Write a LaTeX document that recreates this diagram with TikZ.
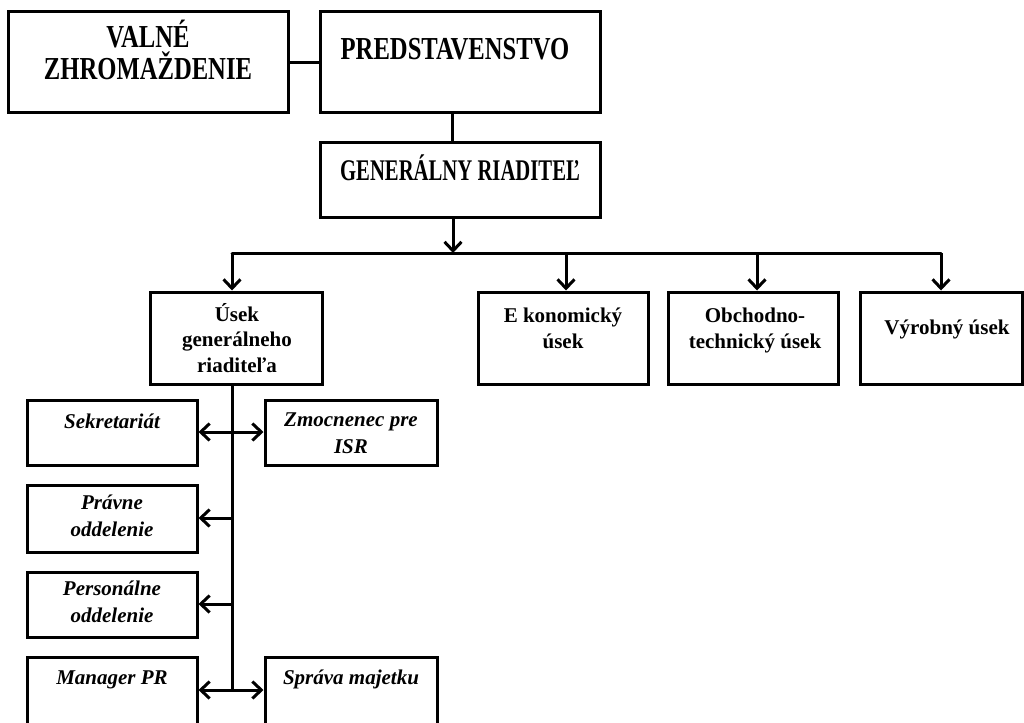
\documentclass[tikz,border=0pt]{standalone}
\usepackage{fontspec}
\setmainfont{Liberation Serif}
\newfontfamily\condfont{Liberation Serif}[FakeStretch=0.77]
\newfontfamily\condfontb{Liberation Serif}[FakeStretch=0.69]
\usetikzlibrary{arrows.meta}
\begin{document}
\begin{tikzpicture}[x=1pt,y={(0pt,-1pt)},
  box/.style={draw=black,line width=3pt,inner sep=0pt,rectangle,fill=white},
  topfont/.style={font=\condfont\bfseries\fontsize{32}{32}\selectfont,align=center,inner sep=0pt},
  gfont/.style={font=\condfontb\bfseries\fontsize{30}{33}\selectfont,align=center,inner sep=0pt},
  midfont/.style={font=\bfseries\fontsize{21}{25.5}\selectfont,align=center,inner sep=0pt},
  lowfont/.style={font=\bfseries\itshape\fontsize{21}{26.5}\selectfont,align=center,inner sep=0pt},
  conn/.style={line width=3pt,draw=black},
  arr/.style={conn,-{Straight Barb[length=9pt,width=17pt,line width=3pt]}}
]
\useasboundingbox (0,0) rectangle (1024,722);
\clip (0,0) rectangle (1024,722);
% top level
\node[box,minimum width=280pt,minimum height=101pt] (vz) at (148,62.5) {};
\node[topfont,anchor=base] (vzt) at (148,80) {VALNÉ\\ZHROMAŽDENIE};
\node[box,minimum width=280pt,minimum height=101pt] (pr) at (460,62.5) {};
\node[topfont,anchor=base] (prt) at (455,60) {PREDSTAVENSTVO};
\node[box,minimum width=280pt,minimum height=74pt] (gr) at (460,180) {};
\node[gfont,anchor=base] (grt) at (460,180) {GENERÁLNY RIADITEĽ};
% second level
\node[box,minimum width=172pt,minimum height=92pt] (us) at (236,338) {};
\node[midfont,anchor=base] (ust) at (237,372) {Úsek\\generálneho\\riaditeľa};
\node[box,minimum width=170pt,minimum height=92pt] (ek) at (563,338) {};
\node[midfont,anchor=base] (ekt) at (563,348) {E konomický\\úsek};
\node[box,minimum width=170pt,minimum height=92pt] (ob) at (753,338) {};
\node[midfont,anchor=base] (obt) at (755,348) {Obchodno-\\technický úsek};
\node[box,minimum width=162pt,minimum height=92pt] (vy) at (941,338) {};
\node[midfont,anchor=base] (vyt) at (947,334) {Výrobný úsek};
% third level
\node[box,minimum width=170pt,minimum height=65pt] (se) at (112,432.5) {};
\node[lowfont,anchor=base] (set) at (112,428) {Sekretariát};
\node[box,minimum width=172pt,minimum height=65pt] (zm) at (351,432.5) {};
\node[lowfont,anchor=base] (zmt) at (351,453) {Zmocnenec pre\\ISR};
\node[box,minimum width=170pt,minimum height=67pt] (pv) at (112,518.5) {};
\node[lowfont,anchor=base] (pvt) at (112,536) {Právne\\oddelenie};
\node[box,minimum width=170pt,minimum height=65pt] (pe) at (112,604.5) {};
\node[lowfont,anchor=base] (pet) at (112,622) {Personálne\\oddelenie};
\node[box,minimum width=170pt,minimum height=80pt] (ma) at (112,697) {};
\node[lowfont,anchor=base] (mat) at (112,684) {Manager PR};
\node[box,minimum width=172pt,minimum height=80pt] (sp) at (351,697) {};
\node[lowfont,anchor=base] (spt) at (351,684) {Správa majetku};
% coordinates
\coordinate (bus) at (453,253);
\coordinate (busL) at (232,253);
\coordinate (busR) at (941,253);
\coordinate (b2) at (566,253);
\coordinate (b3) at (757,253);
\coordinate (s1) at (232,432);
\coordinate (s2) at (232,518);
\coordinate (s3) at (232,604);
\coordinate (s4) at (232,690);
% connectors
\draw[conn] (vz.east |- 0,63) -- (pr.west |- 0,63);
\draw[conn] (pr.south -| 452,0) -- (gr.north -| 452,0);
\draw[arr] (gr.south -| bus) -- (bus);
\draw[conn,line cap=round] (busL) -- (busR);
\draw[arr] (busL) -- (busL |- us.north);
\draw[arr] (b2) -- (b2 |- ek.north);
\draw[arr] (b3) -- (b3 |- ob.north);
\draw[arr] (busR) -- (busR |- vy.north);
\draw[conn] (us.south -| s1) -- (s4);
\draw[arr] (s1) -- (s1 -| se.east);
\draw[arr] (s1) -- (s1 -| zm.west);
\draw[arr] (s2) -- (s2 -| pv.east);
\draw[arr] (s3) -- (s3 -| pe.east);
\draw[arr] (s4) -- (s4 -| ma.east);
\draw[arr] (s4) -- (s4 -| sp.west);
\end{tikzpicture}
\end{document}
